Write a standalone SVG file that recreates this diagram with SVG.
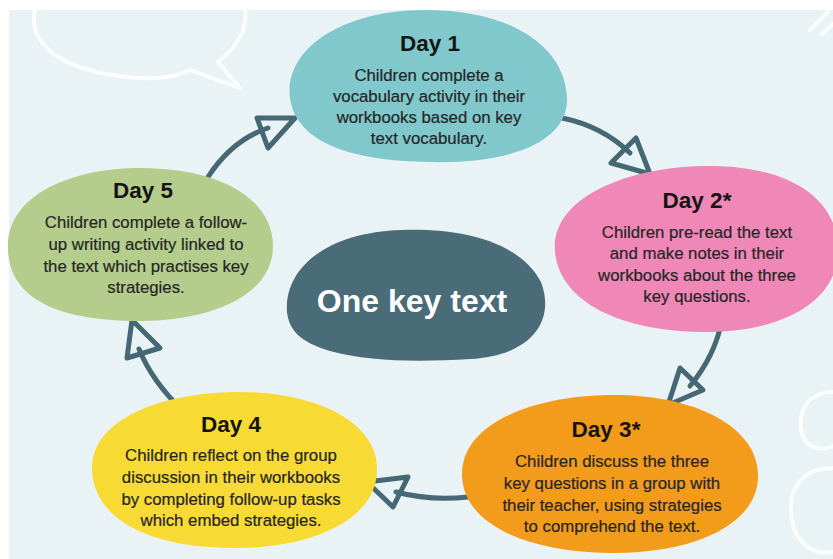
<svg xmlns="http://www.w3.org/2000/svg" width="833" height="559" viewBox="0 0 833 559">
  <style>
    .deco { fill: none; stroke: #ffffff; stroke-width: 4; stroke-linecap: round; stroke-linejoin: round; opacity: 0.8; }
    .arrow { fill: none; stroke: #456874; stroke-width: 5; stroke-linecap: round; stroke-linejoin: round; }
    .head { fill: none; stroke: #456874; stroke-width: 5; stroke-linejoin: round; }
    .title { font-family: "Liberation Sans", Arial, sans-serif; font-weight: bold; font-size: 22.5px; fill: #141414; text-anchor: middle; }
    .body { font-family: "Liberation Sans", Arial, sans-serif; font-size: 16.8px; fill: #262626; stroke: #262626; stroke-width: 0.2; text-anchor: middle; }
    .center { font-family: "Liberation Sans", Arial, sans-serif; font-weight: bold; font-size: 32px; fill: #ffffff; text-anchor: middle; }
  </style>
  <rect x="0" y="0" width="833" height="559" fill="#ffffff"/>
  <rect x="9" y="10" width="824" height="549" fill="#e9f3f5"/>

  <g id="decorations">
    <path class="deco" d="M 35,10 C 28,40 55,66 112,75 C 150,81 175,78 190,70 L 240,88 L 218,62 C 240,45 248,25 245,10"/>
    <path class="deco" d="M 810,30 L 828,12 M 822,34 L 833,24"/>
    <path class="deco" d="M 833,392 C 800,392 795,425 805,440 C 812,450 825,450 833,446"/>
    <path class="deco" d="M 833,468 C 805,468 790,485 791,510 C 792,540 810,556 833,552"/>
  </g>

  <g id="connectors">
    <path class="arrow" d="M 208,177 Q 232,140 268,128"/>
    <polygon class="head" points="257,118 295,118 268,148"/>
    <path class="arrow" d="M 562,118 Q 602,126 630,153"/>
    <polygon class="head" points="636,138 650,174 611,163"/>
    <path class="arrow" d="M 722,320 Q 715,356 690,386"/>
    <polygon class="head" points="680,368 703,390 668,405"/>
    <path class="arrow" d="M 468,497 Q 430,501 396,492"/>
    <polygon class="head" points="367,482 408,477 393,507"/>
    <path class="arrow" d="M 182,410 Q 152,381 139,349"/>
    <polygon class="head" points="132,320 160,348 127,358"/>
  </g>

  <g id="day1">
    <path fill="#80c8cb" d="M 290,98 C 284,50 340,11 422,10 C 505,9 563,42 567,96 C 570,142 510,164 430,162 C 350,161 296,142 290,98 Z"/>
    <text class="title" x="430" y="51">Day 1</text>
    <text class="body" x="429" y="81">Children complete a</text>
    <text class="body" x="429" y="102">vocabulary activity in their</text>
    <text class="body" x="429" y="123">workbooks based on key</text>
    <text class="body" x="429" y="144">text vocabulary.</text>
  </g>

  <g id="day2">
    <path fill="#ef87b7" d="M 555,252 C 550,200 622,168 702,166 C 785,164 838,196 838,250 C 838,302 782,333 702,332 C 620,331 560,302 555,252 Z"/>
    <text class="title" x="697" y="208">Day 2*</text>
    <text class="body" x="697" y="238">Children pre-read the text</text>
    <text class="body" x="697" y="259">and make notes in their</text>
    <text class="body" x="697" y="281">workbooks about the three</text>
    <text class="body" x="697" y="302">key questions.</text>
  </g>

  <g id="day5">
    <path fill="#b4cd8c" d="M 8,250 C 5,196 70,168 140,168 C 222,168 273,200 273,246 C 273,296 210,321 140,321 C 60,321 10,300 8,250 Z"/>
    <text class="title" x="143" y="198">Day 5</text>
    <text class="body" x="146" y="228">Children complete a follow-</text>
    <text class="body" x="146" y="250">up writing activity linked to</text>
    <text class="body" x="146" y="272">the text which practises key</text>
    <text class="body" x="146" y="293">strategies.</text>
  </g>

  <g id="center">
    <path fill="#4a6b78" d="M 287,312 C 284,266 330,232 402,230 C 472,228 522,246 541,282 C 556,322 530,356 470,359 C 420,362 370,362 330,351 C 300,342 289,330 287,312 Z"/>
    <text class="center" x="412" y="312">One key text</text>
  </g>

  <g id="day4">
    <path fill="#f8da35" d="M 92,470 C 90,420 160,393 235,392 C 312,391 376,420 377,468 C 378,520 312,548 235,548 C 150,548 94,520 92,470 Z"/>
    <text class="title" x="231" y="432">Day 4</text>
    <text class="body" x="231" y="461">Children reflect on the group</text>
    <text class="body" x="231" y="483">discussion in their workbooks</text>
    <text class="body" x="231" y="505">by completing follow-up tasks</text>
    <text class="body" x="231" y="526">which embed strategies.</text>
  </g>

  <g id="day3">
    <path fill="#f39b1a" d="M 462,476 C 460,425 530,396 610,395 C 692,394 757,425 758,475 C 759,526 690,554 610,553 C 530,552 464,526 462,476 Z"/>
    <text class="title" x="606" y="437">Day 3*</text>
    <text class="body" x="612" y="467">Children discuss the three</text>
    <text class="body" x="612" y="489">key questions in a group with</text>
    <text class="body" x="612" y="511">their teacher, using strategies</text>
    <text class="body" x="612" y="532">to comprehend the text.</text>
  </g>
</svg>
